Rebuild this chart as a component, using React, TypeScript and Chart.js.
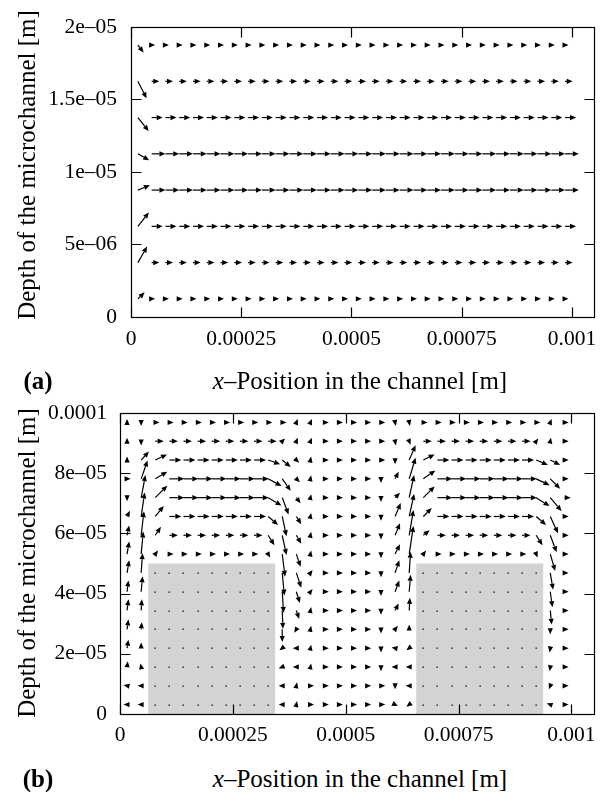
import React, { useEffect, useRef } from 'react';
import { Chart, registerables } from 'chart.js';

Chart.register(...registerables);

const FONT = "'Liberation Serif', 'Times New Roman', Times, serif";

// ---------- shared x axis ----------
const X_TICKS = [0, 0.00025, 0.0005, 0.00075, 0.001];
const X_TICK_LABELS = ['0', '0.00025', '0.0005', '0.00075', '0.001'];
const X_MAX = 0.00105;

// sampling columns (x positions of the arrow tails)
const GRID_X = [
  1.5625e-5, 4.6875e-5, 7.8125e-5, 1.09375e-4, 1.40625e-4, 1.71875e-4, 2.03125e-4, 2.34375e-4,
  2.65625e-4, 2.96875e-4, 3.28125e-4, 3.59375e-4, 3.90625e-4, 4.21875e-4, 4.53125e-4, 4.84375e-4,
  5.15625e-4, 5.46875e-4, 5.78125e-4, 6.09375e-4, 6.40625e-4, 6.71875e-4, 7.03125e-4, 7.34375e-4,
  7.65625e-4, 7.96875e-4, 8.28125e-4, 8.59375e-4, 8.90625e-4, 9.21875e-4, 9.53125e-4, 9.84375e-4,
];

// ---------- panel (a) ----------
const A_Y_TICKS = [0, 5e-6, 1e-5, 1.5e-5, 2e-5];
const A_Y_TICK_LABELS = ['0', '5e–06', '1e–05', '1.5e–05', '2e–05'];
const A_Y_MAX = 2e-5;
// rows, bottom first
const A_ROWS_Y = [1.25e-6, 3.75e-6, 6.25e-6, 8.75e-6, 1.125e-5, 1.375e-5, 1.625e-5, 1.875e-5];
// first column (inlet) vectors, bottom row first
const A_INLET_U = [0.49, 0.67, 0.8, 0.87, 0.82, 0.78, 0.63, 0.41];
const A_INLET_V = [0.49, 1.21, 1.04, 0.36, -0.49, -1.01, -1.28, -0.56];
// horizontal speed of the remaining columns, bottom row first
const A_ROW_SPEED = [0.25, 0.55, 0.8, 1.0, 1.0, 0.8, 0.55, 0.25];

// ---------- panel (b) ----------
const B_Y_TICKS = [0, 2e-5, 4e-5, 6e-5, 8e-5, 1e-4];
const B_Y_TICK_LABELS = ['0', '2e–05', '4e–05', '6e–05', '8e–05', '0.0001'];
const B_Y_MAX = 1e-4;
// rows, top first
const B_ROWS_Y = [
  9.6875e-5, 9.0625e-5, 8.4375e-5, 7.8125e-5, 7.1875e-5, 6.5625e-5, 5.9375e-5, 5.3125e-5,
  4.6875e-5, 4.0625e-5, 3.4375e-5, 2.8125e-5, 2.1875e-5, 1.5625e-5, 9.375e-6, 3.125e-6,
];
const B_U = [
  [0, 0, 0.3, 0.3, 0.3, 0.3, 0.3, 0.3, 0.3, 0.3, 0.3, 0.3, 0.1, 0.1, 0.3, 0.3, 0.3, 0.3, 0.3, 0.05, 0.05, 0.3, 0.3, 0.3, 0.3, 0.3, 0.3, 0.3, 0.3, 0.3, 0.1, 0.3],
  [0, 0, 0.6, 0.6, 0.6, 0.6, 0.6, 0.6, 0.6, 0.6, 0.6, 0.2, 0.1, 0.1, 0.3, 0.3, 0.3, 0.3, 0.3, 0.05, 0.1, 0.6, 0.6, 0.6, 0.6, 0.6, 0.6, 0.6, 0.6, 0.15, 0.05, 0.3],
  [0, 0.55, 0.83, 0.85, 0.85, 0.85, 0.85, 0.85, 0.85, 0.85, 0.85, 0.6, 0.2, 0.05, 0.3, 0.3, 0.3, 0.3, 0.3, 0, 0.45, 0.8, 0.85, 0.85, 0.85, 0.85, 0.85, 0.85, 0.85, 0.83, 0.7, 0.3],
  [0.25, 0.45, 0.85, 1.05, 1.05, 1.05, 1.05, 1.05, 1.05, 1.05, 0.95, 0.6, 0.25, 0.05, 0.3, 0.3, 0.3, 0.3, 0, 0.25, 0.45, 0.85, 1.05, 1.05, 1.05, 1.05, 1.05, 1.05, 1.05, 0.95, 0.7, 0.3],
  [0, 0.3, 0.85, 1.05, 1.05, 1.05, 1.05, 1.05, 1.05, 1.05, 0.95, 0.45, 0.3, 0.05, 0.3, 0.3, 0.3, 0.3, 0, 0.35, 0.35, 0.8, 1.05, 1.05, 1.05, 1.05, 1.05, 1.05, 1.05, 0.95, 0.8, 0.45],
  [0.2, 0.25, 0.6, 0.85, 0.85, 0.85, 0.85, 0.85, 0.85, 0.85, 0.7, 0.3, 0.35, 0.05, 0.3, 0.3, 0.3, 0.3, 0, 0.4, 0.35, 0.6, 0.85, 0.85, 0.85, 0.85, 0.85, 0.85, 0.85, 0.7, 0.55, 0.3],
  [0.15, 0.2, 0.4, 0.6, 0.6, 0.6, 0.6, 0.6, 0.6, 0.6, 0.45, 0.3, 0.35, 0.05, 0.3, 0.3, 0.3, 0.3, 0, 0.35, 0.3, 0.45, 0.6, 0.6, 0.6, 0.6, 0.6, 0.6, 0.6, 0.45, 0.45, 0.3],
  [0.15, 0.15, 0.2, 0.3, 0.3, 0.3, 0.3, 0.3, 0.3, 0.3, 0.15, 0.2, 0.3, 0.05, 0.3, 0.3, 0.3, 0.3, 0, 0.35, 0.3, 0.2, 0.3, 0.3, 0.3, 0.3, 0.3, 0.3, 0.3, 0.1, 0.35, 0.3],
  [0.15, 0.1, 0, 0, 0, 0, 0, 0, 0, 0, 0, 0.15, 0.35, 0.15, 0.3, 0.3, 0.3, 0.3, 0, 0.3, 0.1, 0, 0, 0, 0, 0, 0, 0, 0, 0, 0.2, 0.3],
  [0.1, 0.1, 0, 0, 0, 0, 0, 0, 0, 0, 0, 0.1, 0.25, 0.15, 0.3, 0.3, 0.3, 0.3, 0, 0.3, 0.1, 0, 0, 0, 0, 0, 0, 0, 0, 0, 0.15, 0.3],
  [0.1, 0.05, 0, 0, 0, 0, 0, 0, 0, 0, 0, 0.05, 0.2, 0.05, 0.3, 0.3, 0.3, 0.3, 0, 0.25, 0.05, 0, 0, 0, 0, 0, 0, 0, 0, 0, 0.1, 0.3],
  [0.1, 0.05, 0, 0, 0, 0, 0, 0, 0, 0, 0, 0, -0.15, 0.05, 0.3, 0.3, 0.3, 0.3, 0, 0.2, 0, 0, 0, 0, 0, 0, 0, 0, 0, 0, 0, 0.3],
  [0.1, 0, 0, 0, 0, 0, 0, 0, 0, 0, 0, -0.2, -0.25, 0.05, 0.3, 0.3, 0.3, 0.3, 0, -0.25, -0.2, 0, 0, 0, 0, 0, 0, 0, 0, 0, -0.05, 0.3],
  [0.05, -0.05, 0, 0, 0, 0, 0, 0, 0, 0, 0, -0.25, -0.25, 0.05, 0.3, 0.3, 0.3, 0.3, 0, -0.25, -0.25, 0, 0, 0, 0, 0, 0, 0, 0, 0, -0.05, 0.3],
  [-0.25, -0.25, 0, 0, 0, 0, 0, 0, 0, 0, 0, -0.25, 0.05, 0.25, 0.3, 0.3, 0.3, 0.3, 0.3, 0, -0.25, 0, 0, 0, 0, 0, 0, 0, 0, 0, -0.1, 0.3],
  [-0.25, -0.25, 0, 0, 0, 0, 0, 0, 0, 0, 0, -0.25, 0.05, 0.25, 0.3, 0.3, 0.3, 0.3, 0.3, 0.2, -0.2, 0, 0, 0, 0, 0, 0, 0, 0, 0, -0.25, 0.3],
];
const B_V = [
  [0.25, -0.25, 0, 0, 0, 0, 0, 0, 0, 0, 0, 0, 0.25, 0.25, 0, 0, 0, 0, 0, -0.25, -0.25, 0, 0, 0, 0, 0, 0, 0, 0, 0, 0.25, 0],
  [0.25, -0.3, 0, 0, 0, 0, 0, 0, 0, 0, 0, 0.2, 0.25, 0.25, 0, 0, 0, 0, 0, -0.3, -0.25, 0, 0, 0, 0, 0, 0, 0, 0, 0.2, 0.25, 0],
  [0.25, 0.6, 0.4, 0, 0, 0, 0, 0, 0, 0, -0.3, -0.5, -0.2, 0.25, 0, 0, 0, 0, 0, -0.3, 1.05, 0.4, 0, 0, 0, 0, 0, 0, 0, -0.35, -0.35, 0],
  [0, 1.3, 0.5, 0, 0, 0, 0, 0, 0, 0, -0.5, -0.85, -0.25, 0.25, 0, 0, 0, 0, -0.3, 0.5, 1.5, 0.6, 0, 0, 0, 0, 0, 0, 0, -0.45, -0.7, 0],
  [-0.25, 1.6, 0.85, 0, 0, 0, 0, 0, 0, 0, -0.55, -1.2, -0.4, 0.25, 0, 0, 0, 0, -0.3, 0.35, 1.6, 0.8, 0, 0, 0, 0, 0, 0, 0, -0.6, -0.95, 0],
  [0.4, 1.7, 0.75, 0, 0, 0, 0, 0, 0, 0, -0.6, -1.4, -0.55, 0.25, 0, 0, 0, 0, -0.3, 0.95, 1.6, 0.6, 0, 0, 0, 0, 0, 0, 0, -0.6, -1.2, 0],
  [0.7, 1.7, 0.6, 0, 0, 0, 0, 0, 0, 0, -0.7, -1.4, -0.6, 0.25, 0, 0, 0, 0, -0.3, 0.85, 1.8, 0.35, 0, 0, 0, 0, 0, 0, 0, -0.7, -1.2, 0],
  [0.9, 1.6, 0.25, 0, 0, 0, 0, 0, 0, 0, -0.25, -1.6, -0.9, 0.25, 0, 0, 0, 0, -0.3, 0.7, 2.0, 0.25, 0, 0, 0, 0, 0, 0, 0, -0.25, -1.2, 0],
  [0.9, 1.4, 0, 0, 0, 0, 0, 0, 0, 0, 0, -1.6, -1.05, 0.2, 0, 0, 0, 0, -0.3, 0.9, 1.5, 0, 0, 0, 0, 0, 0, 0, 0, 0, -1.2, 0],
  [0.8, 1.1, 0, 0, 0, 0, 0, 0, 0, 0, 0, -1.5, -0.8, 0.2, 0, 0, 0, 0, -0.3, 0.8, 1.2, 0, 0, 0, 0, 0, 0, 0, 0, 0, -1.1, 0],
  [0.8, 0.8, 0, 0, 0, 0, 0, 0, 0, 0, 0, -1.3, -0.6, 0.25, 0, 0, 0, 0, -0.3, 0.5, 0.9, 0, 0, 0, 0, 0, 0, 0, 0, 0, -1.0, 0],
  [0.7, 0.5, 0, 0, 0, 0, 0, 0, 0, 0, 0, -0.9, -0.25, 0.25, 0, 0, 0, 0, -0.3, 0.25, 0.35, 0, 0, 0, 0, 0, 0, 0, 0, 0, -0.35, 0],
  [0.6, 0.4, 0, 0, 0, 0, 0, 0, 0, 0, 0, -0.15, 0, 0.25, 0, 0, 0, 0, -0.3, 0.05, -0.15, 0, 0, 0, 0, 0, 0, 0, 0, 0, -0.3, 0],
  [0.4, 0.25, 0, 0, 0, 0, 0, 0, 0, 0, 0, -0.1, 0, 0.25, 0, 0, 0, 0, -0.3, 0, 0, 0, 0, 0, 0, 0, 0, 0, 0, 0, -0.3, 0],
  [0.05, 0, 0, 0, 0, 0, 0, 0, 0, 0, 0, 0, 0.25, 0, 0, 0, 0, 0, 0, -0.25, 0, 0, 0, 0, 0, 0, 0, 0, 0, 0, -0.25, 0],
  [0, 0, 0, 0, 0, 0, 0, 0, 0, 0, 0, 0, 0.25, 0, 0, 0, 0, 0, 0, -0.1, -0.15, 0, 0, 0, 0, 0, 0, 0, 0, 0, 0.1, 0],
];
// obstacles (grey blocks) standing on the channel floor
const B_BLOCK_X0 = [6.25e-5, 6.5625e-4];
const B_BLOCK_X1 = [3.4375e-4, 9.375e-4];
const B_BLOCK_TOP = [5e-5, 5e-5];

const HEAD_LEN = 6;
const HEAD_HALF = 2.6;
const TICK_LEN = 10;

type Pt = { x: number; y: number; u: number; v: number };

function buildA(): Pt[] {
  const pts: Pt[] = [];
  A_ROWS_Y.forEach((y, r) => {
    GRID_X.forEach((x, c) => {
      pts.push({ x, y, u: c === 0 ? A_INLET_U[r] : A_ROW_SPEED[r], v: c === 0 ? A_INLET_V[r] : 0 });
    });
  });
  return pts;
}

function buildB(): Pt[] {
  const pts: Pt[] = [];
  B_ROWS_Y.forEach((y, r) => {
    GRID_X.forEach((x, c) => {
      pts.push({ x, y, u: B_U[r][c], v: B_V[r][c] });
    });
  });
  return pts;
}

function makeChart(canvas: HTMLCanvasElement, cfg: any) {
  const plugin = {
    id: 'vectorField',
    beforeDatasetsDraw(chart: any) {
      const { ctx } = chart;
      const xs = chart.scales.x;
      const ys = chart.scales.y;
      ctx.save();
      ctx.fillStyle = '#d3d3d3';
      cfg.blocks.forEach((b: any) => {
        const x0 = xs.getPixelForValue(b.x0);
        const x1 = xs.getPixelForValue(b.x1);
        const y0 = ys.getPixelForValue(0);
        const y1 = ys.getPixelForValue(b.top);
        ctx.fillRect(x0, y1, x1 - x0, y0 - y1);
      });
      ctx.restore();
    },
    afterDatasetsDraw(chart: any) {
      const { ctx } = chart;
      const xs = chart.scales.x;
      const ys = chart.scales.y;
      const meta = chart.getDatasetMeta(0);
      const data = chart.data.datasets[0].data as Pt[];
      ctx.save();
      ctx.strokeStyle = '#000';
      ctx.fillStyle = '#000';
      ctx.lineWidth = 1.2;
      meta.data.forEach((el: any, i: number) => {
        const d = data[i];
        const tx = el.x;
        const ty = el.y;
        if (d.u === 0 && d.v === 0) {
          ctx.fillRect(Math.round(tx) - 0.5, Math.round(ty) - 0.5, 1.3, 1.3);
          return;
        }
        const hx = xs.getPixelForValue(d.x + d.u * cfg.unitX);
        const hy = ys.getPixelForValue(d.y + d.v * cfg.unitY);
        const dx = hx - tx;
        const dy = hy - ty;
        const len = Math.hypot(dx, dy);
        const ux = dx / len;
        const uy = dy / len;
        const bx = hx - ux * HEAD_LEN;
        const by = hy - uy * HEAD_LEN;
        if (len > HEAD_LEN) {
          ctx.beginPath();
          ctx.moveTo(tx, ty);
          ctx.lineTo(bx, by);
          ctx.stroke();
        }
        ctx.beginPath();
        ctx.moveTo(hx, hy);
        ctx.lineTo(bx - uy * HEAD_HALF, by + ux * HEAD_HALF);
        ctx.lineTo(bx + uy * HEAD_HALF, by - ux * HEAD_HALF);
        ctx.closePath();
        ctx.fill();
      });
      ctx.restore();
    },
    afterDraw(chart: any) {
      const { ctx, chartArea } = chart;
      const xs = chart.scales.x;
      const ys = chart.scales.y;
      const L = Math.round(chartArea.left) + 0.5;
      const R = Math.round(chartArea.right) + 0.5;
      const T = Math.round(chartArea.top) + 0.5;
      const B = Math.round(chartArea.bottom) + 0.5;
      ctx.save();
      ctx.strokeStyle = '#000';
      ctx.lineWidth = 1.2;
      ctx.strokeRect(L, T, R - L, B - T);
      ctx.beginPath();
      cfg.xTicks.forEach((v: number) => {
        const p = Math.round(xs.getPixelForValue(v)) + 0.5;
        ctx.moveTo(p, B);
        ctx.lineTo(p, B - TICK_LEN);
        ctx.moveTo(p, T);
        ctx.lineTo(p, T + TICK_LEN);
      });
      cfg.yTicks.forEach((v: number) => {
        const p = Math.round(ys.getPixelForValue(v)) + 0.5;
        ctx.moveTo(L, p);
        ctx.lineTo(L + TICK_LEN, p);
        ctx.moveTo(R, p);
        ctx.lineTo(R - TICK_LEN, p);
      });
      ctx.stroke();
      ctx.restore();
    },
  };

  return new Chart(canvas, {
    type: 'scatter',
    data: {
      datasets: [
        {
          data: cfg.points,
          pointRadius: 0,
          pointHoverRadius: 0,
          showLine: false,
        } as any,
      ],
    },
    options: {
      animation: false,
      responsive: false,
      devicePixelRatio: 1,
      events: [],
      layout: { padding: { top: cfg.padTop, right: cfg.padRight, left: 0, bottom: 0 } },
      plugins: { legend: { display: false }, tooltip: { enabled: false }, title: { display: false } },
      scales: {
        x: {
          type: 'linear',
          min: 0,
          max: X_MAX,
          grid: { display: false, drawTicks: false },
          border: { display: false },
          ticks: {
            font: { family: FONT, size: 21.5 },
            color: '#000',
            padding: cfg.xLabelPad,
            autoSkip: false,
            maxRotation: 0,
            callback: (_v: any, i: number) => cfg.xLabels[i],
          },
          afterBuildTicks: (s: any) => {
            s.ticks = cfg.xTicks.map((value: number) => ({ value }));
          },
          afterFit: (s: any) => {
            s.height = cfg.xAxisHeight;
          },
        },
        y: {
          type: 'linear',
          min: 0,
          max: cfg.yMax,
          grid: { display: false, drawTicks: false },
          border: { display: false },
          ticks: {
            font: { family: FONT, size: 21.5 },
            color: '#000',
            padding: cfg.yLabelPad,
            autoSkip: false,
            callback: (_v: any, i: number) => cfg.yLabels[i],
          },
          afterBuildTicks: (s: any) => {
            s.ticks = cfg.yTicks.map((value: number) => ({ value }));
          },
          afterFit: (s: any) => {
            s.width = cfg.yAxisWidth;
          },
        },
      },
    } as any,
    plugins: [plugin as any],
  });
}

function VectorChart({ cfg, top, height }: { cfg: any; top: number; height: number }) {
  const ref = useRef<HTMLCanvasElement>(null);
  useEffect(() => {
    const chart = makeChart(ref.current as HTMLCanvasElement, cfg);
    return () => chart.destroy();
  }, []);
  return (
    <canvas
      ref={ref}
      width={612}
      height={height}
      style={{ position: 'absolute', left: 0, top, width: 612, height }}
    />
  );
}

const textBase: React.CSSProperties = {
  position: 'absolute',
  fontFamily: FONT,
  fontSize: 25,
  lineHeight: 1,
  whiteSpace: 'nowrap',
  color: '#000',
  transform: 'translate(-50%, -50%)',
};

const CFG_A = {
  points: buildA(),
  xTicks: X_TICKS,
  xLabels: X_TICK_LABELS,
  yTicks: A_Y_TICKS,
  yLabels: A_Y_TICK_LABELS,
  yMax: A_Y_MAX,
  unitX: 3.125e-5,
  unitY: 9.17e-7,
  blocks: [],
  padTop: 15,
  padRight: 18,
  yAxisWidth: 131,
  xAxisHeight: 33,
  xLabelPad: 9,
  yLabelPad: 14,
};

const CFG_B = {
  points: buildB(),
  xTicks: X_TICKS,
  xLabels: X_TICK_LABELS,
  yTicks: B_Y_TICKS,
  yLabels: B_Y_TICK_LABELS,
  yMax: B_Y_MAX,
  unitX: 3.125e-5,
  unitY: 4.68e-6,
  blocks: B_BLOCK_X0.map((x0, i) => ({ x0, x1: B_BLOCK_X1[i], top: B_BLOCK_TOP[i] })),
  padTop: 33,
  padRight: 18,
  yAxisWidth: 120,
  xAxisHeight: 36,
  xLabelPad: 8,
  yLabelPad: 13,
};

export default function App() {
  return (
    <div style={{ position: 'absolute', left: 0, top: 0, width: 612, height: 792, background: '#fff', overflow: 'hidden' }}>
      <VectorChart cfg={CFG_A} top={0} height={350} />
      <VectorChart cfg={CFG_B} top={380} height={370} />

      <div style={{ ...textBase, left: 26, top: 165, transform: 'translate(-50%, -50%) rotate(-90deg)' }}>
        Depth of the microchannel [m]
      </div>
      <div style={{ ...textBase, left: 38, top: 380, fontWeight: 'bold' }}>(a)</div>
      <div style={{ ...textBase, left: 360, top: 380 }}>
        <i>x</i>–Position in the channel [m]
      </div>

      <div style={{ ...textBase, left: 26, top: 563, transform: 'translate(-50%, -50%) rotate(-90deg)' }}>
        Depth of the microchannel [m]
      </div>
      <div style={{ ...textBase, left: 38, top: 778, fontWeight: 'bold' }}>(b)</div>
      <div style={{ ...textBase, left: 360, top: 778 }}>
        <i>x</i>–Position in the channel [m]
      </div>
    </div>
  );
}
